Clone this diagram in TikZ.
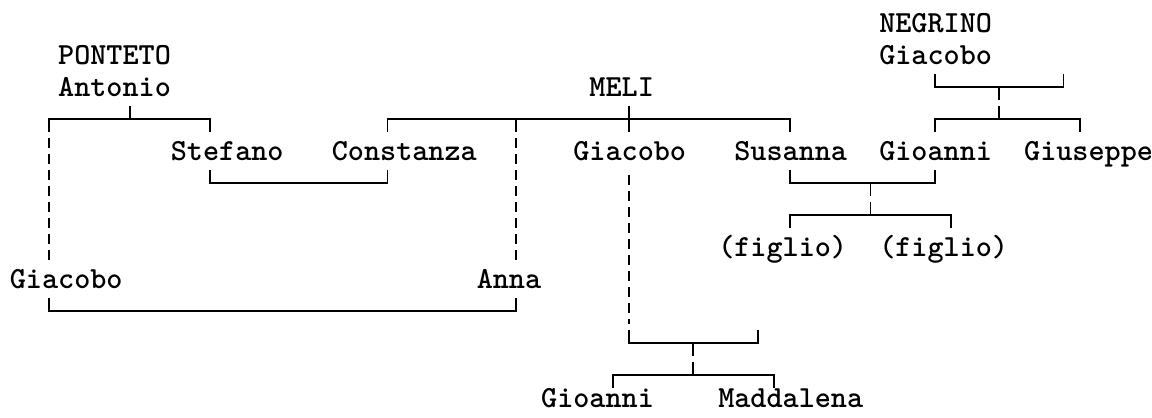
\documentclass[tikz,border=0pt]{standalone}
\usepackage{tikz}

\begin{document}
\begin{tikzpicture}[x=16.1pt, y=-32pt, line width=1.7pt,
    persona/.style={font=\ttfamily\bfseries\fontsize{30.67}{32}\selectfont, anchor=base west, inner sep=0pt},
    trat/.style={dash pattern=on 10pt off 6pt},
    salto/.style={dash pattern=on 12.8pt off 6.4pt}]
\useasboundingbox (-0.559,-0.719) rectangle (70.994,12.3125);

% nombres
\node[persona] (negrino) at (54,0.3) {NEGRINO};
\node[persona] (giacoboN) at (54,1.3) {Giacobo};
\node[persona] (ponteto) at (3,1.3) {PONTETO};
\node[persona] (antonio) at (3,2.3) {Antonio};
\node[persona] (meli) at (36,2.3) {MELI};
\node[persona] (stefano) at (10,4.3) {Stefano};
\node[persona] (constanza) at (20,4.3) {Constanza};
\node[persona] (giacoboM) at (35,4.3) {Giacobo};
\node[persona] (susanna) at (45,4.3) {Susanna};
\node[persona] (gioanniN) at (54,4.3) {Gioanni};
\node[persona] (giuseppe) at (63,4.3) {Giuseppe};
\node[persona] (figlioA) at (44,7.3) {(figlio)};
\node[persona] (figlioB) at (54,7.3) {(figlio)};
\node[persona] (giacoboP) at (0,8.3) {Giacobo};
\node[persona] (anna) at (29,8.3) {Anna};
\node[persona] (gioanniM) at (33,12.0) {Gioanni};
\node[persona] (maddalena) at (44,12.0) {Maddalena};

% uniones
\coordinate (pA) at (2.5,3);
\coordinate (pT) at (7.5,3);
\coordinate (pB) at (12.5,3);
\coordinate (sA) at (12.5,5);
\coordinate (sB) at (23.5,5);
\coordinate (mA) at (23.5,3);
\coordinate (mD) at (31.5,3);
\coordinate (mT) at (38.5,3);
\coordinate (mB) at (48.5,3);
\coordinate (gA) at (2.5,9);
\coordinate (gB) at (31.5,9);
\coordinate (kA) at (38.5,10);
\coordinate (kT) at (42.5,10);
\coordinate (kB) at (46.5,10);
\coordinate (bA) at (37.5,11);
\coordinate (bB) at (47.5,11);
\coordinate (uA) at (48.5,5);
\coordinate (uT) at (53.5,5);
\coordinate (uB) at (57.5,5);
\coordinate (fA) at (48.5,6);
\coordinate (fB) at (58.5,6);
\coordinate (nA) at (57.5,2);
\coordinate (nT) at (61.5,2);
\coordinate (nB) at (65.5,2);
\coordinate (cA) at (57.5,3);
\coordinate (cB) at (66.5,3);

% Ponteto
\draw (pA) ++(0,0.4) -- (pA) -- (pB) -- ++(0,0.4);
\draw (pT) -- ++(0,-0.4);
\draw (sA) ++(0,-0.4) -- (sA) -- (sB) -- ++(0,-0.4);
\draw[trat] (pA) ++(0,0.6) -- ++(0,3.8);
\draw (gA) ++(0,-0.4) -- (gA) -- (gB) -- ++(0,-0.4);

% Meli
\draw (mA) ++(0,0.4) -- (mA) -- (mB) -- ++(0,0.4);
\draw (mT) ++(0,-0.4) -- ++(0,0.8);
\draw (mD) -- ++(0,0.4);
\draw[trat] (mD) ++(0,0.6) -- ++(0,3.8);
\draw[trat] (mT) ++(0,1.75) -- ++(0,4.65);
\draw (kA) ++(0,-0.4) -- (kA) -- (kB) -- ++(0,-0.4);
\draw[salto] (kT) -- ++(0,1);
\draw (bA) ++(0,0.4) -- (bA) -- (bB) -- ++(0,0.4);

% Negrino
\draw (nA) ++(0,-0.4) -- (nA) -- (nB) -- ++(0,-0.4);
\draw[salto] (nT) -- ++(0,1);
\draw (cA) ++(0,0.4) -- (cA) -- (cB) -- ++(0,0.4);
\draw (uA) ++(0,-0.4) -- (uA) -- (uB) -- ++(0,-0.4);
\draw[salto] (uT) -- ++(0,1);
\draw (fA) ++(0,0.4) -- (fA) -- (fB) -- ++(0,0.4);
\end{tikzpicture}
\end{document}
